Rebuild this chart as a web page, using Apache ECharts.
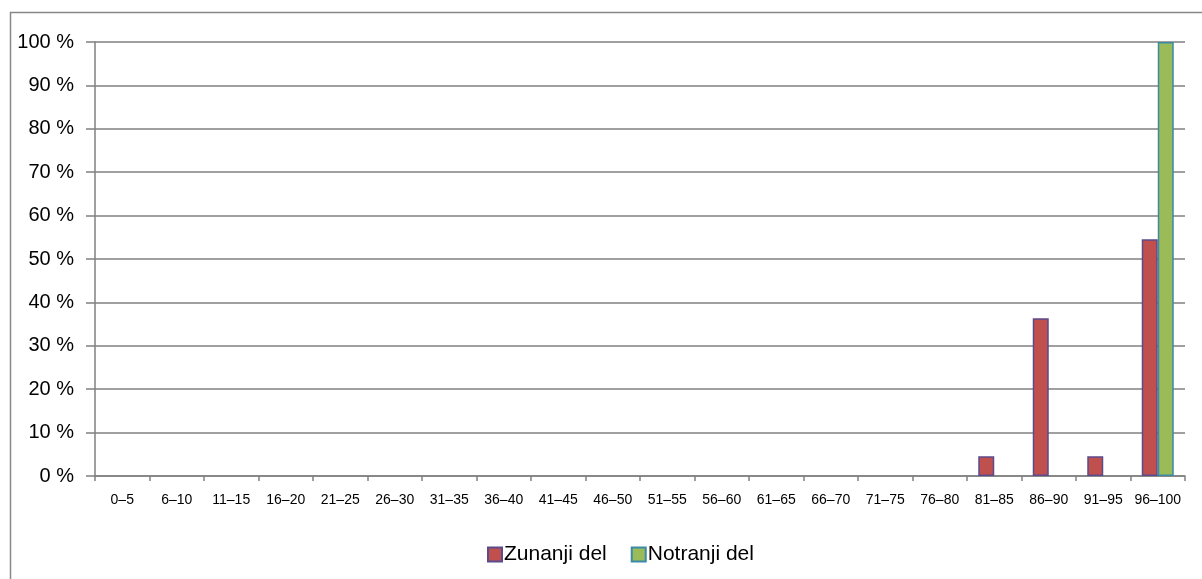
<!DOCTYPE html>
<html>
<head>
<meta charset="utf-8">
<script src="https://cdn.jsdelivr.net/npm/echarts@6/dist/echarts.min.js"></script>
<style>
html,body{margin:0;padding:0;background:#fff;}
#chart{width:1202px;height:579px;}
</style>
</head>
<body>
<div id="chart"></div>
<script>
var categories = ['0–5','6–10','11–15','16–20','21–25','26–30','31–35','36–40','41–45','46–50','51–55','56–60','61–65','66–70','71–75','76–80','81–85','86–90','91–95','96–100'];
var zunanjiDel = [0,0,0,0,0,0,0,0,0,0,0,0,0,0,0,0,4.55,36.36,4.55,54.55];
var notranjiDel = [0,0,0,0,0,0,0,0,0,0,0,0,0,0,0,0,0,0,0,100];
var yTicks = [0,10,20,30,40,50,60,70,80,90,100];

function hideZero(arr){ return arr.map(function(v){ return v === 0 ? '-' : v; }); }

var chart = echarts.init(document.getElementById('chart'), null, {renderer:'canvas'});
var font = 'Arial, "Liberation Sans", sans-serif';
var axisColor = '#808080';
chart.setOption({
  animation:false,
  backgroundColor:'#fff',
  graphic:[{type:'rect',shape:{x:10.5,y:12.5,width:1400,height:800},style:{fill:'none',stroke:'#888',lineWidth:1.5},silent:true}],
  grid:{left:95,right:17,top:42,bottom:103,containLabel:false},
  legend:{
    left:482, top:539,
    itemWidth:14,itemHeight:14,itemGap:24,
    icon:'rect',
    textStyle:{fontFamily:font,fontSize:21,color:'#000',padding:[0,0,0,-3]},
    data:['Zunanji del','Notranji del']
  },
  xAxis:{
    type:'category',
    data:categories,
    axisLine:{lineStyle:{color:axisColor,width:1.5}},
    axisTick:{show:true,length:5,lineStyle:{color:axisColor,width:1.5}},
    axisLabel:{fontFamily:font,fontSize:14,color:'#000',margin:17,interval:0}
  },
  yAxis:{
    type:'value',min:yTicks[0],max:yTicks[yTicks.length-1],interval:10,
    axisLine:{show:true,lineStyle:{color:axisColor,width:1.5}},
    axisTick:{show:true,length:9,lineStyle:{color:axisColor,width:1.5}},
    splitLine:{show:true,lineStyle:{color:axisColor,width:1.5}},
    axisLabel:{fontFamily:font,fontSize:20,color:'#000',margin:21,formatter:'{value} %'}
  },
  series:[
    {name:'Zunanji del',type:'bar',data:hideZero(zunanjiDel),barWidth:16,barGap:'0%',
     itemStyle:{color:'#C0504D',borderColor:'#5B4A8C',borderWidth:1.5}},
    {name:'Notranji del',type:'bar',data:hideZero(notranjiDel),barWidth:16,barGap:'0%',
     itemStyle:{color:'#9BBB59',borderColor:'#3A8AA8',borderWidth:1.5}}
  ]
});
</script>
</body>
</html>
